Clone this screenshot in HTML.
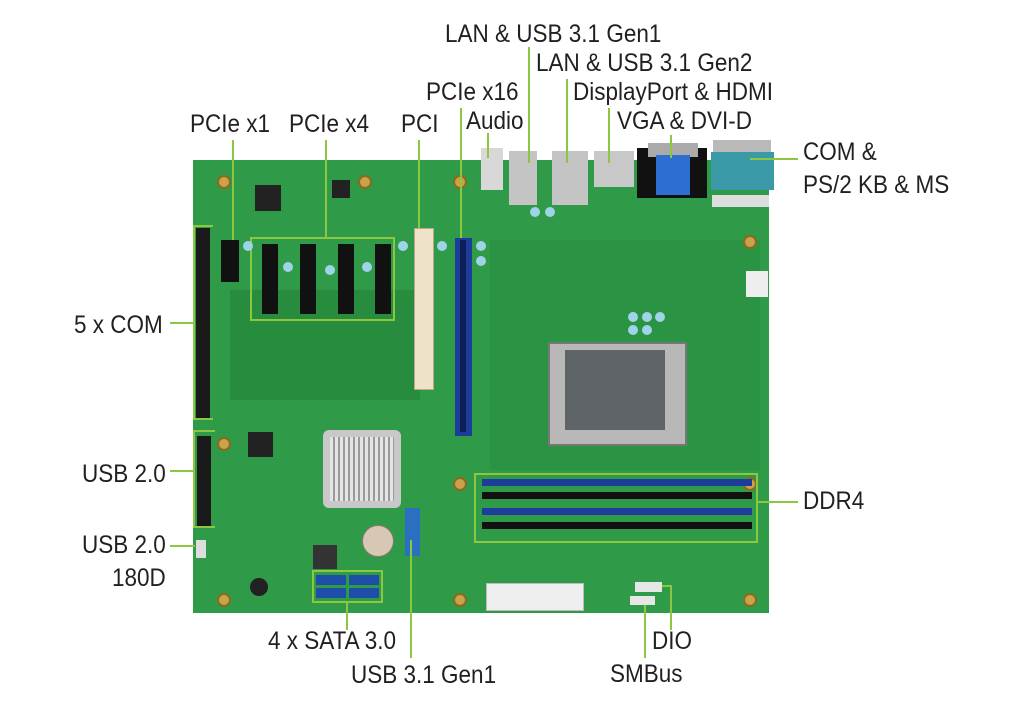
<!DOCTYPE html>
<html><head><meta charset="utf-8"><style>
body{margin:0;width:1011px;height:717px;background:#fff;position:relative;overflow:hidden;font-family:"Liberation Sans",sans-serif}
.t{position:absolute;font-size:25px;line-height:25px;color:#231f20;white-space:nowrap;transform:scaleX(0.9);transform-origin:left top}
.a{position:absolute}
.l{position:absolute;background:#8dc63f}
.box{position:absolute;border:2px solid #8dc63f;box-sizing:border-box}
.hole{position:absolute;width:14px;height:14px;border-radius:50%;background:#c9a24a;border:2px solid #8a6a20;box-sizing:border-box}
.cap{position:absolute;width:10px;height:10px;border-radius:50%;background:#9fd3e8}
</style></head><body>
<div class="a" style="left:193px;top:160px;width:576px;height:453px;background:#2f9a48"></div>
<div class="a" style="left:230px;top:290px;width:190px;height:110px;background:#278c3e"></div>
<div class="a" style="left:490px;top:240px;width:270px;height:230px;background:#2b9444"></div>
<div class="hole" style="left:217px;top:175px"></div><div class="hole" style="left:358px;top:175px"></div><div class="hole" style="left:453px;top:175px"></div><div class="hole" style="left:743px;top:235px"></div><div class="hole" style="left:217px;top:437px"></div><div class="hole" style="left:453px;top:477px"></div><div class="hole" style="left:743px;top:477px"></div><div class="hole" style="left:217px;top:593px"></div><div class="hole" style="left:453px;top:593px"></div><div class="hole" style="left:743px;top:593px"></div>
<div class="a" style="left:255px;top:185px;width:26px;height:26px;background:#222"></div>
<div class="a" style="left:332px;top:180px;width:18px;height:18px;background:#222"></div>
<div class="a" style="left:248px;top:432px;width:25px;height:25px;background:#222"></div>
<div class="a" style="left:313px;top:545px;width:24px;height:24px;background:#333"></div>
<div class="a" style="left:681px;top:180px;width:16px;height:16px;background:#222"></div>
<div class="a" style="left:196px;top:228px;width:14px;height:190px;background:#1a1a1a"></div>
<div class="a" style="left:197px;top:436px;width:14px;height:90px;background:#1a1a1a"></div>
<div class="a" style="left:196px;top:540px;width:10px;height:18px;background:#ddd"></div>
<div class="a" style="left:221px;top:240px;width:18px;height:42px;background:#111"></div>
<div class="a" style="left:262px;top:244px;width:16px;height:70px;background:#111"></div>
<div class="a" style="left:300px;top:244px;width:16px;height:70px;background:#111"></div>
<div class="a" style="left:338px;top:244px;width:16px;height:70px;background:#111"></div>
<div class="a" style="left:375px;top:244px;width:16px;height:70px;background:#111"></div>
<div class="box" style="left:250px;top:237px;width:145px;height:84px"></div>
<div class="a" style="left:414px;top:228px;width:18px;height:160px;background:#eee2c8;border:1px solid #b9a98a"></div>
<div class="a" style="left:455px;top:238px;width:17px;height:198px;background:#1d3c9a"></div>
<div class="a" style="left:460px;top:240px;width:6px;height:192px;background:#0d1f55"></div>
<div class="cap" style="left:243px;top:241px"></div><div class="cap" style="left:283px;top:262px"></div><div class="cap" style="left:325px;top:265px"></div><div class="cap" style="left:362px;top:262px"></div><div class="cap" style="left:398px;top:241px"></div><div class="cap" style="left:437px;top:241px"></div><div class="cap" style="left:476px;top:241px"></div><div class="cap" style="left:476px;top:256px"></div><div class="cap" style="left:530px;top:207px"></div><div class="cap" style="left:545px;top:207px"></div><div class="cap" style="left:628px;top:312px"></div><div class="cap" style="left:642px;top:312px"></div><div class="cap" style="left:628px;top:325px"></div><div class="cap" style="left:642px;top:325px"></div><div class="cap" style="left:655px;top:312px"></div>
<div class="a" style="left:323px;top:430px;width:78px;height:78px;background:#c8c8c8;border-radius:6px"></div>
<div class="a" style="left:330px;top:437px;width:64px;height:64px;background:repeating-linear-gradient(90deg,#e4e4e4 0 3px,#9a9a9a 3px 5px)"></div>
<div class="a" style="left:362px;top:525px;width:30px;height:30px;border-radius:50%;background:#d8c7b5;border:1px solid #8a7a6a"></div>
<div class="a" style="left:250px;top:578px;width:18px;height:18px;border-radius:50%;background:#222"></div>
<div class="a" style="left:316px;top:575px;width:30px;height:10px;background:#1d4ea8"></div><div class="a" style="left:349px;top:575px;width:30px;height:10px;background:#1d4ea8"></div><div class="a" style="left:316px;top:588px;width:30px;height:10px;background:#1d4ea8"></div><div class="a" style="left:349px;top:588px;width:30px;height:10px;background:#1d4ea8"></div>
<div class="box" style="left:312px;top:570px;width:71px;height:33px"></div>
<div class="a" style="left:405px;top:508px;width:15px;height:48px;background:#2b6fc2"></div>
<div class="a" style="left:481px;top:148px;width:22px;height:42px;background:#d8d8d8"></div>
<div class="a" style="left:509px;top:151px;width:28px;height:54px;background:#c4c4c4"></div>
<div class="a" style="left:552px;top:151px;width:36px;height:54px;background:#c4c4c4"></div>
<div class="a" style="left:594px;top:151px;width:40px;height:36px;background:#c8c8c8"></div>
<div class="a" style="left:637px;top:148px;width:70px;height:50px;background:#111"></div>
<div class="a" style="left:648px;top:143px;width:50px;height:14px;background:#aaa"></div>
<div class="a" style="left:656px;top:155px;width:34px;height:40px;background:#2d6fd1"></div>
<div class="a" style="left:713px;top:140px;width:58px;height:12px;background:#b9b9b9"></div>
<div class="a" style="left:711px;top:152px;width:63px;height:38px;background:#3a9aa8"></div>
<div class="a" style="left:712px;top:195px;width:57px;height:12px;background:#ddd"></div>
<div class="a" style="left:548px;top:342px;width:135px;height:100px;background:#b8b8b8;border:2px solid #777"></div>
<div class="a" style="left:565px;top:350px;width:100px;height:80px;background:#5e6468"></div>
<div class="a" style="left:746px;top:271px;width:22px;height:26px;background:#eee"></div>
<div class="a" style="left:482px;top:479px;width:270px;height:7px;background:#1e3c9a"></div>
<div class="a" style="left:482px;top:492px;width:270px;height:7px;background:#111"></div>
<div class="a" style="left:482px;top:508px;width:270px;height:7px;background:#1e3c9a"></div>
<div class="a" style="left:482px;top:522px;width:270px;height:7px;background:#111"></div>
<div class="box" style="left:474px;top:473px;width:284px;height:70px"></div>
<div class="a" style="left:486px;top:583px;width:96px;height:26px;background:#efefef;border:1px solid #bbb"></div>
<div class="a" style="left:635px;top:582px;width:27px;height:10px;background:#e6e6e6"></div>
<div class="a" style="left:630px;top:596px;width:25px;height:9px;background:#e6e6e6"></div>
<div class="l" style="left:232px;top:140px;width:2px;height:100px"></div>
<div class="l" style="left:325px;top:140px;width:2px;height:97px"></div>
<div class="l" style="left:418px;top:140px;width:2px;height:88px"></div>
<div class="l" style="left:460px;top:108px;width:2px;height:130px"></div>
<div class="l" style="left:487px;top:133px;width:2px;height:25px"></div>
<div class="l" style="left:528px;top:47px;width:2px;height:116px"></div>
<div class="l" style="left:566px;top:79px;width:2px;height:84px"></div>
<div class="l" style="left:608px;top:108px;width:2px;height:55px"></div>
<div class="l" style="left:670px;top:135px;width:2px;height:23px"></div>
<div class="l" style="left:750px;top:158px;width:48px;height:2px"></div>
<div class="l" style="left:170px;top:322px;width:24px;height:2px"></div>
<div class="l" style="left:193px;top:225px;width:20px;height:2px"></div>
<div class="l" style="left:193px;top:225px;width:2px;height:195px"></div>
<div class="l" style="left:193px;top:418px;width:20px;height:2px"></div>
<div class="l" style="left:170px;top:470px;width:24px;height:2px"></div>
<div class="l" style="left:193px;top:430px;width:2px;height:98px"></div>
<div class="l" style="left:193px;top:430px;width:22px;height:2px"></div>
<div class="l" style="left:193px;top:526px;width:22px;height:2px"></div>
<div class="l" style="left:170px;top:545px;width:25px;height:2px"></div>
<div class="l" style="left:757px;top:501px;width:41px;height:2px"></div>
<div class="l" style="left:346px;top:603px;width:2px;height:27px"></div>
<div class="l" style="left:410px;top:540px;width:2px;height:118px"></div>
<div class="l" style="left:662px;top:585px;width:10px;height:2px"></div>
<div class="l" style="left:670px;top:585px;width:2px;height:45px"></div>
<div class="l" style="left:644px;top:605px;width:2px;height:53px"></div>
<div class="t" style="left:445px;top:22px">LAN &amp; USB 3.1 Gen1</div>
<div class="t" style="left:536px;top:51px">LAN &amp; USB 3.1 Gen2</div>
<div class="t" style="left:573px;top:80px">DisplayPort &amp; HDMI</div>
<div class="t" style="left:617px;top:109px">VGA &amp; DVI-D</div>
<div class="t" style="left:426px;top:80px">PCIe x16</div>
<div class="t" style="left:466px;top:109px">Audio</div>
<div class="t" style="left:190px;top:112px">PCIe x1</div>
<div class="t" style="left:289px;top:112px">PCIe x4</div>
<div class="t" style="left:401px;top:112px">PCI</div>
<div class="t" style="left:803px;top:140px">COM &amp;</div>
<div class="t" style="left:803px;top:173px">PS/2 KB &amp; MS</div>
<div class="t" style="left:74px;top:313px">5 x COM</div>
<div class="t" style="left:82px;top:462px">USB 2.0</div>
<div class="t" style="left:82px;top:533px">USB 2.0</div>
<div class="t" style="left:112px;top:566px">180D</div>
<div class="t" style="left:803px;top:489px">DDR4</div>
<div class="t" style="left:268px;top:629px">4 x SATA 3.0</div>
<div class="t" style="left:351px;top:663px">USB 3.1 Gen1</div>
<div class="t" style="left:652px;top:629px">DIO</div>
<div class="t" style="left:610px;top:662px">SMBus</div>
</body></html>
